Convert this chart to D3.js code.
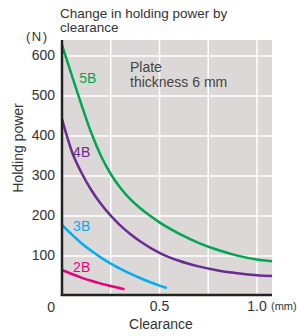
<!DOCTYPE html>
<html>
<head>
<meta charset="utf-8">
<script src="https://cdn.jsdelivr.net/npm/d3@7"></script>
<style>
  body { margin: 0; background: #fff; }
  svg { display: block; font-family: "Liberation Sans", Arial, sans-serif; }
</style>
</head>
<body>
<svg width="297" height="336"></svg>
<script>
// clearance (mm) vs holding power (N)
var series = ["5B", "4B", "3B", "2B"];
var colors = ["#00a651", "#6a2c91", "#00aeef", "#e6007e"];
var x5B = [0, 0.05, 0.1, 0.15, 0.2, 0.25, 0.3, 0.35, 0.4, 0.45, 0.5, 0.6, 0.7, 0.8, 0.9, 1.0, 1.077];
var y5B = [627, 552, 478, 408, 350, 305, 270, 242, 220, 201, 184, 156, 133, 115, 101, 91, 87];
var x4B = [0, 0.05, 0.1, 0.15, 0.2, 0.25, 0.3, 0.35, 0.4, 0.5, 0.6, 0.7, 0.8, 0.9, 1.0, 1.077];
var y4B = [442, 362, 308, 265, 230, 201, 176, 155, 137, 108, 88, 74, 64, 57, 52, 50];
var x3B = [0, 0.05, 0.1, 0.15, 0.2, 0.25, 0.3, 0.35, 0.4, 0.45, 0.5, 0.537];
var y3B = [178, 154, 132, 113, 96, 81, 68, 56, 45, 35, 26, 20];
var x2B = [0, 0.05, 0.1, 0.15, 0.2, 0.25, 0.32];
var y2B = [65, 55, 46, 38, 31, 25, 17];
var xTicks = [0, 0.5, 1.0];
var xTickLabels = ["0", "0.5", "1.0"];
var xGrid = [0.25, 0.5, 0.75, 1.0];
var yTicks = [0, 100, 200, 300, 400, 500, 600];

var xs = {"5B": x5B, "4B": x4B, "3B": x3B, "2B": x2B};
var ys = {"5B": y5B, "4B": y4B, "3B": y3B, "2B": y2B};
// label anchor points (data coords)
var labelAt = {"5B": [0.088, 542], "4B": [0.057, 357], "3B": [0.057, 172], "2B": [0.057, 70]};

var svg = d3.select("svg");
var x = d3.scaleLinear().domain([0, 1.077]).range([62, 272]);
var y = d3.scaleLinear().domain([0, 640]).range([296, 40]);
var txt = "#333";

svg.append("rect")
  .attr("x", x(0)).attr("y", y(640))
  .attr("width", x(1.077) - x(0)).attr("height", y(0) - y(640))
  .attr("fill", "#dcd8d7");

svg.selectAll(".vg").data(xGrid).enter().append("line")
  .attr("x1", d => x(d)).attr("x2", d => x(d))
  .attr("y1", y(640)).attr("y2", y(0))
  .attr("stroke", "#fff").attr("stroke-width", 1.5);
svg.selectAll(".hg").data(yTicks.slice(1)).enter().append("line")
  .attr("x1", x(0)).attr("x2", x(1.077))
  .attr("y1", d => y(d)).attr("y2", d => y(d))
  .attr("stroke", "#fff").attr("stroke-width", 1.5);

var line = d3.line().curve(d3.curveMonotoneX)
  .x(d => x(d[0])).y(d => y(d[1]));

series.forEach(function(s, i) {
  var pts = xs[s].map((v, j) => [v, ys[s][j]]);
  svg.append("path").datum(pts)
    .attr("d", line)
    .attr("fill", "none")
    .attr("stroke", colors[i])
    .attr("stroke-width", 2.5);
  svg.append("text")
    .attr("x", x(labelAt[s][0])).attr("y", y(labelAt[s][1]))
    .attr("fill", colors[i]).attr("font-size", 14)
    .attr("dominant-baseline", "middle")
    .text(s);
});

// axes
svg.append("line").attr("x1", x(0)).attr("x2", x(0))
  .attr("y1", y(640)).attr("y2", y(0))
  .attr("stroke", "#222").attr("stroke-width", 2.5);
svg.append("line").attr("x1", x(0) - 1.25).attr("x2", x(1.077))
  .attr("y1", y(0) - 1).attr("y2", y(0) - 1)
  .attr("stroke", "#222").attr("stroke-width", 2.5);

svg.selectAll(".yt").data(yTicks).enter().append("text")
  .attr("x", 55).attr("y", d => d === 0 ? y(0) + 12 : y(d))
  .attr("text-anchor", "end").attr("dominant-baseline", "middle")
  .attr("font-size", 14).attr("fill", txt)
  .text(d => d);

svg.selectAll(".xt").data(xTicks.slice(1)).enter().append("text")
  .attr("x", d => x(d)).attr("y", 307)
  .attr("text-anchor", "middle").attr("dominant-baseline", "middle")
  .attr("font-size", 14).attr("fill", txt)
  .text((d, i) => xTickLabels[i + 1]);

svg.append("text").attr("x", 271).attr("y", 307)
  .attr("dominant-baseline", "middle")
  .attr("font-size", 11).attr("fill", txt).text("(mm)");
svg.append("text").attr("x", 26).attr("y", 41)
  .attr("font-size", 13).attr("letter-spacing", 1.5).attr("fill", txt).text("(N)");

svg.append("text").attr("x", 161).attr("y", 329)
  .attr("text-anchor", "middle")
  .attr("font-size", 14).attr("fill", txt).text("Clearance");
svg.append("text")
  .attr("transform", "translate(23,148) rotate(-90)")
  .attr("text-anchor", "middle")
  .attr("font-size", 14).attr("fill", txt).text("Holding power");

svg.append("text").attr("x", 60).attr("y", 18)
  .attr("font-size", 13.5).attr("fill", txt).text("Change in holding power by");
svg.append("text").attr("x", 60).attr("y", 32)
  .attr("font-size", 13.5).attr("fill", txt).text("clearance");

svg.append("text").attr("x", 130).attr("y", 72)
  .attr("font-size", 14).attr("fill", "#444").text("Plate");
svg.append("text").attr("x", 130).attr("y", 87)
  .attr("font-size", 14).attr("fill", "#444").text("thickness 6 mm");
</script>
</body>
</html>
